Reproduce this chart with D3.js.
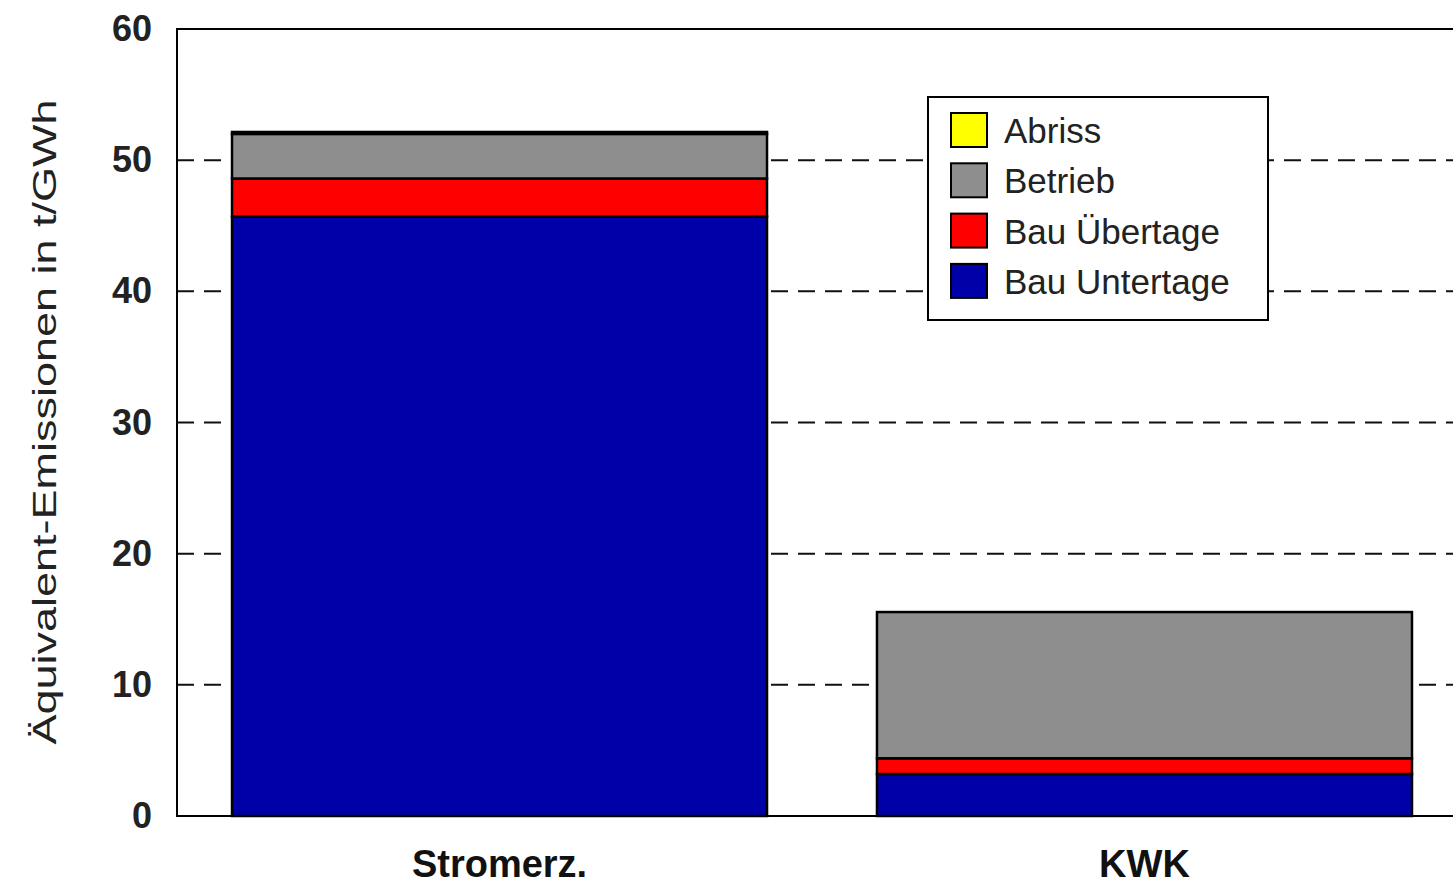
<!DOCTYPE html>
<html><head><meta charset="utf-8">
<script src="https://cdn.jsdelivr.net/npm/d3@7"></script>
<style>body{margin:0;background:#fff}svg{display:block}</style>
</head><body>
<svg id="c" width="1453" height="888"></svg>
<script>
const categories = ["Stromerz.", "KWK"];
const seriesNames = ["Bau Untertage", "Bau Übertage", "Betrieb", "Abriss"];
const bauUntertage = [45.7, 3.2];
const bauUebertage = [2.9, 1.2];
const betrieb = [3.4, 11.15];
const abriss = [0.15, 0.0];
const yTicks = [0, 10, 20, 30, 40, 50, 60];
const colors = ["#0000A8", "#FF0000", "#8E8E8E", "#FFFF00"];

const svg = d3.select("#c");
const L = 177, T = 29, B = 816, R = 1467;
const y = d3.scaleLinear().domain([0, 60]).range([B, T]);
const x = d3.scaleBand().domain(categories).range([L, R]).paddingInner(0.1705).paddingOuter(0.0853);

// gridlines
svg.append("g").selectAll("line").data(yTicks.filter(d => d > 0 && d < 60)).join("line")
  .attr("x1", L).attr("x2", R).attr("y1", d => y(d)).attr("y2", d => y(d))
  .attr("stroke", "#111").attr("stroke-width", 2).attr("stroke-dasharray", "17,10");

// stacked bars
const rows = categories.map((c, i) => ({cat: c, "Bau Untertage": bauUntertage[i], "Bau Übertage": bauUebertage[i], "Betrieb": betrieb[i], "Abriss": abriss[i]}));
const stack = d3.stack().keys(seriesNames)(rows);
svg.append("g").selectAll("g").data(stack).join("g")
  .attr("fill", (d, i) => colors[i])
  .selectAll("rect").data(d => d.filter(s => s[1] - s[0] > 0)).join("rect")
  .attr("x", d => x(d.data.cat)).attr("width", x.bandwidth())
  .attr("y", d => y(d[1])).attr("height", d => y(d[0]) - y(d[1]))
  .attr("stroke", "#000").attr("stroke-width", 2.5);

// frame
svg.append("rect").attr("x", L).attr("y", T).attr("width", R - L).attr("height", B - T)
  .attr("fill", "none").attr("stroke", "#000").attr("stroke-width", 2);

// y axis labels
svg.append("g").selectAll("text").data(yTicks).join("text")
  .attr("x", 152).attr("y", d => y(d) + 12).attr("text-anchor", "end")
  .attr("font-family", "Liberation Sans, Arial, sans-serif").attr("font-weight", "bold")
  .attr("font-size", 36).attr("fill", "#222").text(d => d);

// x labels
svg.append("g").selectAll("text").data(categories).join("text")
  .attr("x", d => x(d) + x.bandwidth() / 2).attr("y", 877).attr("text-anchor", "middle")
  .attr("font-family", "Liberation Sans, Arial, sans-serif").attr("font-weight", "bold")
  .attr("font-size", 38).attr("fill", "#111").text(d => d);

// y title
svg.append("text").attr("transform", "translate(56,422) rotate(-90)")
  .attr("text-anchor", "middle").attr("font-family", "Liberation Sans, Arial, sans-serif")
  .attr("font-size", 34).attr("fill", "#222")
  .attr("textLength", 645).attr("lengthAdjust", "spacingAndGlyphs")
  .text("Äquivalent-Emissionen in t/GWh");

// legend
const lg = svg.append("g");
lg.append("rect").attr("x", 928).attr("y", 97).attr("width", 340).attr("height", 223)
  .attr("fill", "#fff").attr("stroke", "#000").attr("stroke-width", 2);
const legendOrder = [3, 2, 1, 0];
const li = lg.selectAll("g.it").data(legendOrder).join("g").attr("class", "it")
  .attr("transform", (d, i) => `translate(951,${113 + i * 50.3})`);
li.append("rect").attr("width", 36).attr("height", 34).attr("fill", d => colors[d])
  .attr("stroke", "#000").attr("stroke-width", 2);
li.append("text").attr("x", 53).attr("y", 30)
  .attr("font-family", "Liberation Sans, Arial, sans-serif").attr("font-size", 35)
  .attr("fill", "#222").text(d => seriesNames[d]);
</script>
</body></html>
